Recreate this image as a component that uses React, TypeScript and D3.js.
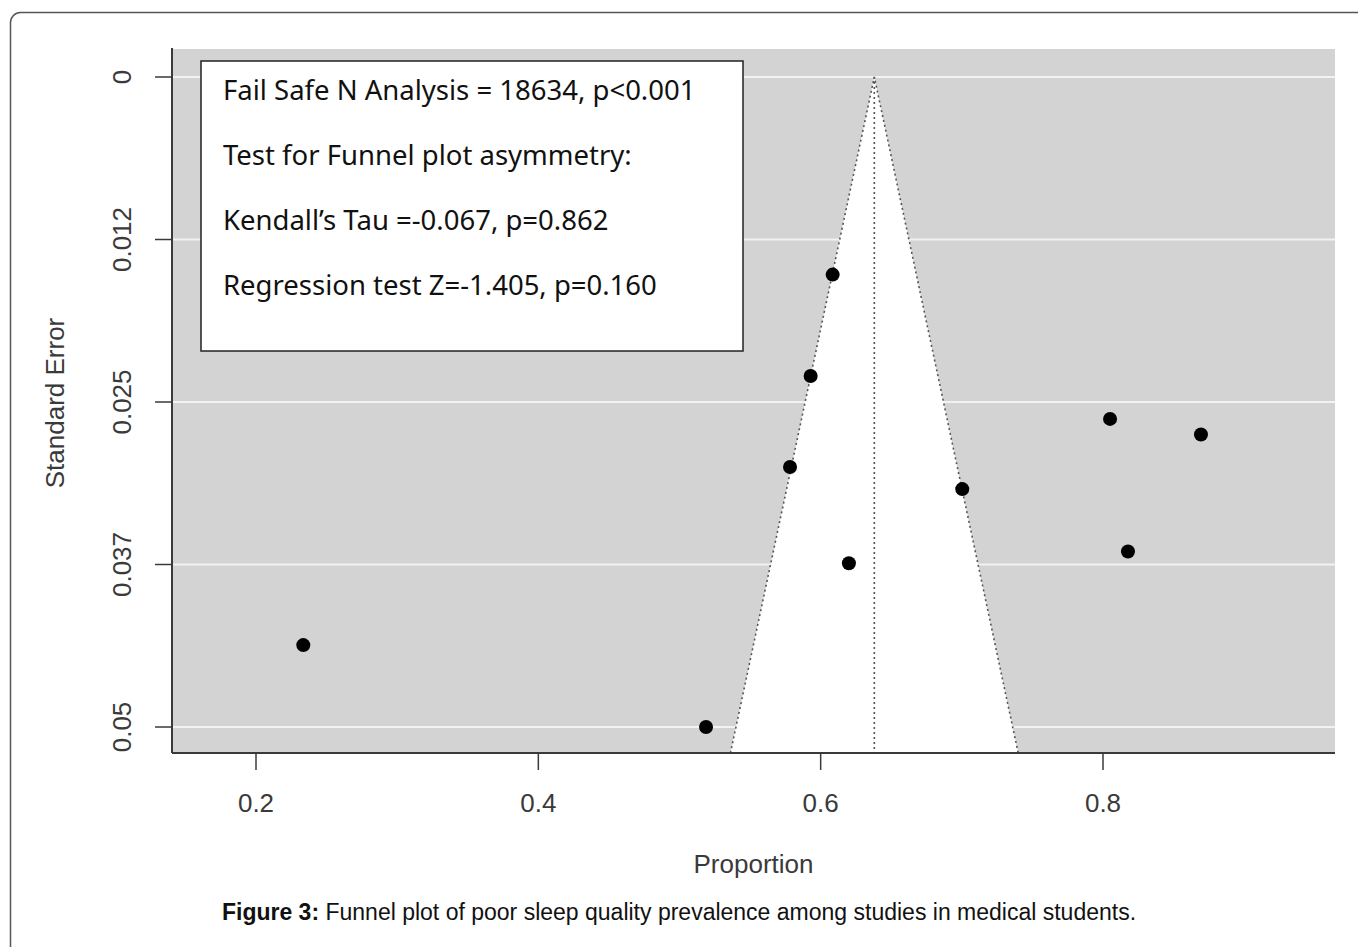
import React from 'react';
import * as d3 from 'd3';

// study estimates (proportion) and their standard errors
const proportion = [0.6085, 0.5929, 0.805, 0.8694, 0.5783, 0.7003, 0.8177, 0.62, 0.2335, 0.5188];
const stdError = [0.0152, 0.023, 0.0263, 0.0275, 0.03, 0.0317, 0.0365, 0.0374, 0.0437, 0.05];

const pooled = 0.638;

const xTicks = [0.2, 0.4, 0.6, 0.8];
const xTickLabels = ['0.2', '0.4', '0.6', '0.8'];
const yTicks = [0, 0.0125, 0.025, 0.0375, 0.05];
const yTickLabels = ['0', '0.012', '0.025', '0.037', '0.05'];

const boxLines = [
  'Fail Safe N Analysis = 18634, p<0.001',
  'Test for Funnel plot asymmetry:',
  'Kendall\u2019s Tau =-0.067, p=0.862',
  'Regression test Z=-1.405, p=0.160',
];

const W = 1358;
const H = 947;
const plot = { left: 172, right: 1335, top: 49, bottom: 753 };

export default function App() {
  const x = d3.scaleLinear().domain([0.2, 0.8]).range([256, 1103]);
  const y = d3.scaleLinear().domain([0, 0.05]).range([77, 727]);

  const seMax = y.invert(plot.bottom);
  const funnelPts: [number, number][] = [
    [pooled - 1.96 * seMax, seMax],
    [pooled, 0],
    [pooled + 1.96 * seMax, seMax],
  ];
  const line = d3
    .line<[number, number]>()
    .x((d) => x(d[0]))
    .y((d) => y(d[1]));

  const axisFont = '"Liberation Sans", Arial, sans-serif';
  const axisCol = '#3a3a3a';

  return (
    <svg
      width={W}
      height={H}
      style={{ position: 'absolute', left: 0, top: 0, background: '#fff' }}
    >
      <rect x={10.5} y={12.5} width={1360} height={960} rx={10} fill="none" stroke="#555" strokeWidth={1.5} />

      {/* panel */}
      <rect
        x={plot.left}
        y={plot.top}
        width={plot.right - plot.left}
        height={plot.bottom - plot.top}
        fill="#d3d3d3"
      />
      {yTicks.map((t) => (
        <line key={'g' + t} x1={plot.left} x2={plot.right} y1={y(t)} y2={y(t)} stroke="#f2f2f2" strokeWidth={2} />
      ))}

      {/* funnel */}
      <path d={line(funnelPts) + 'Z'} fill="#fff" stroke="none" />
      <path d={line(funnelPts)!} fill="none" stroke="#555" strokeWidth={1.6} strokeDasharray="2,3" />
      <line
        x1={x(pooled)}
        x2={x(pooled)}
        y1={y(0)}
        y2={plot.bottom}
        stroke="#555"
        strokeWidth={1.6}
        strokeDasharray="2,3"
      />

      {/* studies */}
      {proportion.map((p, i) => (
        <circle key={i} cx={x(p)} cy={y(stdError[i])} r={7} fill="#000" />
      ))}

      {/* axes */}
      <line x1={plot.left} x2={plot.left} y1={plot.top - 1} y2={plot.bottom} stroke={axisCol} strokeWidth={2} />
      <line x1={plot.left} x2={plot.right} y1={plot.bottom} y2={plot.bottom} stroke={axisCol} strokeWidth={2} />
      {yTicks.map((t, i) => (
        <g key={'y' + t}>
          <line x1={plot.left - 17} x2={plot.left} y1={y(t)} y2={y(t)} stroke={axisCol} strokeWidth={1.5} />
          <text
            transform={`translate(131,${y(t)}) rotate(-90)`}
            textAnchor="middle"
            fontFamily={axisFont}
            fontSize={26}
            fill={axisCol}
          >
            {yTickLabels[i]}
          </text>
        </g>
      ))}
      {xTicks.map((t, i) => (
        <g key={'x' + t}>
          <line x1={x(t)} x2={x(t)} y1={plot.bottom} y2={plot.bottom + 17} stroke={axisCol} strokeWidth={1.5} />
          <text x={x(t)} y={812} textAnchor="middle" fontFamily={axisFont} fontSize={26} fill={axisCol}>
            {xTickLabels[i]}
          </text>
        </g>
      ))}
      <text
        transform={`translate(64,${(plot.top + plot.bottom) / 2 + 2}) rotate(-90)`}
        textAnchor="middle"
        fontFamily={axisFont}
        fontSize={26}
        fill={axisCol}
      >
        Standard Error
      </text>
      <text x={(plot.left + plot.right) / 2} y={873} textAnchor="middle" fontFamily={axisFont} fontSize={26} fill={axisCol}>
        Proportion
      </text>

      {/* statistics box */}
      <rect x={201} y={61} width={542} height={290} fill="#fff" stroke="#222" strokeWidth={1.5} />
      {boxLines.map((s, i) => (
        <text key={s} x={223} y={100 + i * 65} fontFamily='"Noto Sans", "Open Sans", sans-serif' fontSize={27.5} fill="#111">
          {s}
        </text>
      ))}

      {/* caption */}
      <text x={679} y={920} textAnchor="middle" fontFamily={axisFont} fontSize={23} fill="#111">
        <tspan fontWeight="bold">Figure 3:</tspan> Funnel plot of poor sleep quality prevalence among studies in medical
        students.
      </text>
    </svg>
  );
}
